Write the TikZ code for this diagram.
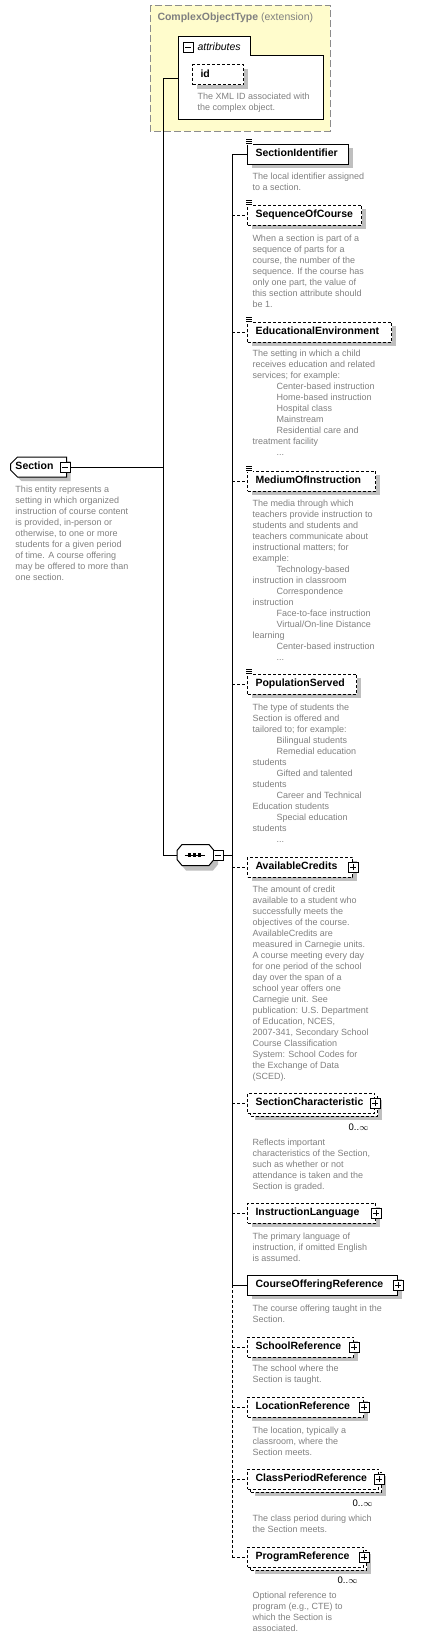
\documentclass[tikz,border=0pt]{standalone}
\usepackage{fontspec}
\setmainfont{Liberation Sans}
\usetikzlibrary{shapes.misc}
\usetikzlibrary{shadows}

\tikzset{
  elembase/.style={draw, fill=white, anchor=west, minimum height=20pt, inner xsep=8pt, inner ysep=0pt,
    text width=#1, align=left, text height=7.5pt, text depth=2pt,
    font=\fontsize{10.5}{12}\selectfont\bfseries},
  elem/.style={elembase=#1, drop shadow={shadow xshift=4pt, shadow yshift=-4pt, fill=black!25, opacity=1}},
  multi/.style={elembase=#1, opt,
    drop shadow={shadow xshift=7pt, shadow yshift=-7pt, fill=black!25, opacity=1},
    copy shadow={shadow xshift=3pt, shadow yshift=-3pt, draw=black, fill=white}},
  opt/.style={dash pattern=on 3pt off 2pt},
  desc/.style={anchor=north west, inner sep=0pt, align=left, text=black!50, font=\fontsize{9}{11}\selectfont},
  toggle/.style={draw, fill=white, minimum size=10pt, inner sep=0pt, line width=0.8pt,
    drop shadow={shadow xshift=1.2pt, shadow yshift=-1.2pt, fill=black, opacity=1}},
  minusbox/.style={toggle, path picture={
    \draw[line width=0.8pt] ([xshift=2pt]path picture bounding box.west) -- ([xshift=-2pt]path picture bounding box.east);}},
  plusbox/.style={toggle, path picture={
    \draw[line width=0.8pt] ([xshift=2pt]path picture bounding box.west) -- ([xshift=-2pt]path picture bounding box.east);
    \draw[line width=0.8pt] ([yshift=2pt]path picture bounding box.south) -- ([yshift=-2pt]path picture bounding box.north);}},
  rootbox/.style={draw, fill=white, chamfered rectangle, chamfered rectangle corners={north west,south west},
    chamfered rectangle xsep=3pt, chamfered rectangle ysep=4pt, anchor=west, minimum height=20pt,
    inner xsep=2pt, inner ysep=0pt, text width=46pt, align=left, text height=7.5pt, text depth=2pt,
    font=\fontsize{10.5}{12}\selectfont\bfseries,
    drop shadow={shadow xshift=4pt, shadow yshift=-4pt, fill=black!25, opacity=1}},
  compbox/.style={anchor=west, minimum width=36pt, minimum height=20pt, inner sep=0pt},
  card/.style={anchor=east, inner sep=0pt, font=\fontsize{9.5}{11}\selectfont},
}

\begin{document}
\begin{tikzpicture}[x=1pt,y=-1pt,line width=1pt]
\useasboundingbox (0,0) rectangle (426,1638);

% base type
\draw[draw=black!45, fill=yellow!20, dash pattern=on 7pt off 3pt] (150,5) rectangle (330,131);
\node[anchor=west, inner sep=0pt, text=black!50, font=\fontsize{10.5}{12}\selectfont] (ctype) at (157,18)
  {\textbf{ComplexObjectType} (extension)};

% attributes
\draw[fill=white] (178,119) -- (178,36) -- (250,36) -- (250,55) -- (323,55) -- (323,119) -- cycle;
\node[minusbox] (attrmin) at (188,47) {};
\node[anchor=west, inner sep=0pt, font=\fontsize{10.5}{12}\selectfont\itshape] (attrs) at (197,47) {attributes};
\node[elem=35, opt] (id) at (192,74.5) {id};
\node[desc] (iddesc) at (197,92) {The XML ID associated with\\the complex object.};
\coordinate (attrin) at (178,78);

% root element
\node[rootbox] (sec) at (10,467) {Section};
\node[minusbox] (secmin) at (65,467) {};
\node[desc] (secdesc) at (15,485) {This entity represents a\\setting in which organized\\instruction of course content\\is provided, in-person or\\otherwise, to one or more\\students for a given period\\of time. A course offering\\may be offered to more than\\one section.};

% sequence
\node[compbox] (seq) at (177,855) {};
\fill[black!25] ([shift={(9,5)}]seq.north west) -- ([shift={(-1,5)}]seq.north east) -- ([shift={(4,11)}]seq.north east)
  -- ([shift={(4,-1)}]seq.south east) -- ([shift={(-1,5)}]seq.south east) -- ([shift={(9,5)}]seq.south west)
  -- ([shift={(4,-1)}]seq.south west) -- ([shift={(4,11)}]seq.north west) -- cycle;
\draw[fill=white] ([xshift=5pt]seq.north west) -- ([xshift=-5pt]seq.north east) -- ([shift={(0,6)}]seq.north east)
  -- ([shift={(0,-6)}]seq.south east) -- ([xshift=-5pt]seq.south east) -- ([xshift=5pt]seq.south west)
  -- ([shift={(0,-6)}]seq.south west) -- ([shift={(0,6)}]seq.north west) -- cycle;
\draw ([xshift=-11pt]seq.center) -- ([xshift=9pt]seq.center);
\foreach \dx in {-6,-1,4}
  \fill ([shift={(\dx-1.6,-1.6)}]seq.center) rectangle ++(3.2,3.2);
\node[minusbox] (seqmin) at (218,855) {};

% children
\node[elem=85] (sid) at (247,154) {SectionIdentifier};
\node[elem=98, opt] (soc) at (247,215) {SequenceOfCourse};
\node[elem=128, opt] (edu) at (247,332) {EducationalEnvironment};
\node[elem=112, opt] (moi) at (247,481) {MediumOfInstruction};
\node[elem=93, opt] (pop) at (247,684) {PopulationServed};
\node[elem=89, opt] (avc) at (247,867) {AvailableCredits};
\node[multi=111] (sch) at (247,1103) {SectionCharacteristic};
\node[elem=112, opt] (inl) at (247,1213) {InstructionLanguage};
\node[elem=134] (cor) at (247,1285) {CourseOfferingReference};
\node[elem=90, opt] (scr) at (247,1347) {SchoolReference};
\node[elem=100, opt] (lcr) at (247,1407) {LocationReference};
\node[multi=115] (cpr) at (247,1479) {ClassPeriodReference};
\node[multi=100] (prg) at (247,1557) {ProgramReference};

% simple type icons
\foreach \n in {sid,soc,edu,moi,pop} {
  \fill[white] ([shift={(-1.5,-5)}]\n.north west) rectangle ([shift={(6,1)}]\n.north west);
  \foreach \k in {-4,-2,0}
    \draw[line width=0.7pt] ([shift={(-1,\k)}]\n.north west) -- ++(6,0);
}

% expand buttons
\foreach \n in {avc,sch,inl,cor,scr,lcr,cpr,prg}
  \node[plusbox] (\n-tog) at (\n.east) {};

\node[card] (schcard) at (369,1127) {0..$\infty$};
\node[card] (cprcard) at (373,1503) {0..$\infty$};
\node[card] (prgcard) at (358,1580) {0..$\infty$};

% descriptions
\node[desc] (siddesc) at (252,172) {The local identifier assigned\\to a section.};
\node[desc] (socdesc) at (252,234) {When a section is part of a\\sequence of parts for a\\course, the number of the\\sequence. If the course has\\only one part, the value of\\this section attribute should\\be 1.};
\node[desc] (edudesc) at (252,349) {The setting in which a child\\receives education and related\\services; for example:\\
  \hspace*{24pt}Center-based instruction\\\hspace*{24pt}Home-based instruction\\\hspace*{24pt}Hospital class\\
  \hspace*{24pt}Mainstream\\\hspace*{24pt}Residential care and\\treatment facility\\\hspace*{24pt}...};
\node[desc] (moidesc) at (252,499) {The media through which\\teachers provide instruction to\\students and students and\\teachers communicate about\\instructional matters; for\\example:\\
  \hspace*{24pt}Technology-based\\instruction in classroom\\\hspace*{24pt}Correspondence\\instruction\\
  \hspace*{24pt}Face-to-face instruction\\\hspace*{24pt}Virtual/On-line Distance\\learning\\
  \hspace*{24pt}Center-based instruction\\\hspace*{24pt}...};
\node[desc] (popdesc) at (252,703) {The type of students the\\Section is offered and\\tailored to; for example:\\
  \hspace*{24pt}Bilingual students\\\hspace*{24pt}Remedial education\\students\\
  \hspace*{24pt}Gifted and talented\\students\\\hspace*{24pt}Career and Technical\\Education students\\
  \hspace*{24pt}Special education\\students\\\hspace*{24pt}...};
\node[desc] (avcdesc) at (252,885) {The amount of credit\\available to a student who\\successfully meets the\\objectives of the course.\\AvailableCredits are\\measured in Carnegie units.\\A course meeting every day\\for one period of the school\\day over the span of a\\school year offers one\\Carnegie unit. See\\publication: U.S. Department\\of Education, NCES,\\2007-341, Secondary School\\Course Classification\\System: School Codes for\\the Exchange of Data\\(SCED).};
\node[desc] (schdesc) at (252,1138) {Reflects important\\characteristics of the Section,\\such as whether or not\\attendance is taken and the\\Section is graded.};
\node[desc] (inldesc) at (252,1232) {The primary language of\\instruction, if omitted English\\is assumed.};
\node[desc] (cordesc) at (252,1304) {The course offering taught in the\\Section.};
\node[desc] (scrdesc) at (252,1364) {The school where the\\Section is taught.};
\node[desc] (lcrdesc) at (252,1426) {The location, typically a\\classroom, where the\\Section meets.};
\node[desc] (cprdesc) at (252,1514) {The class period during which\\the Section meets.};
\node[desc] (prgdesc) at (252,1591) {Optional reference to\\program (e.g., CTE) to\\which the Section is\\associated.};

% connectors
\coordinate (trunk) at (163,78);
\coordinate (bar) at (232,154);
\draw (attrin) -- (trunk) -- (trunk |- seq.west) -- (seq.west);
\draw (secmin.east) -- (secmin.east -| trunk);
\draw (seqmin.east) -- (seqmin.east -| bar);
\draw (bar) -- (sid.west);
\draw (bar) -- (bar |- cor.west) -- (cor.west);
\draw[opt] (bar |- cor.west) -- (bar |- prg.west);
\foreach \n in {soc,edu,moi,pop,avc,sch,inl,scr,lcr,cpr,prg}
  \draw[opt] (bar |- \n.west) -- (\n.west);

\end{tikzpicture}
\end{document}
